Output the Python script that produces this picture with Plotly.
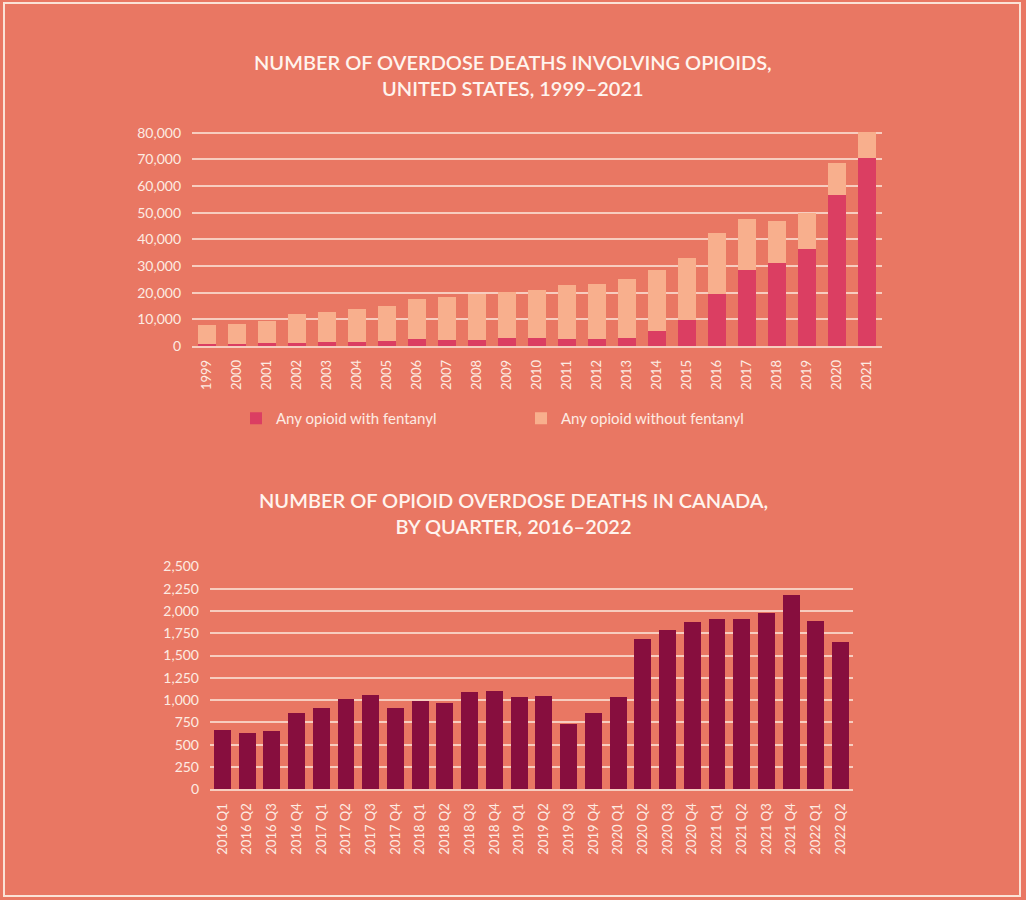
import plotly.graph_objects as go

# US data, 1999-2021
years = [str(y) for y in range(1999, 2022)]
with_fentanyl = [730, 782, 957, 1295, 1400, 1664, 1742, 2707, 2213, 2306, 2946, 3007,
                 2666, 2628, 3105, 5544, 9580, 19413, 28466, 31335, 36359, 56516, 70601]
without_fentanyl = [7318, 7625, 8539, 10625, 11540, 12092, 13176, 14838, 16303, 17276,
                    17476, 18082, 20118, 20538, 21947, 23103, 23511, 22836, 19134, 15467,
                    13501, 12114, 9810]

# Canada quarterly data
quarters = ["2016 Q1", "2016 Q2", "2016 Q3", "2016 Q4", "2017 Q1", "2017 Q2", "2017 Q3",
            "2017 Q4", "2018 Q1", "2018 Q2", "2018 Q3", "2018 Q4", "2019 Q1", "2019 Q2",
            "2019 Q3", "2019 Q4", "2020 Q1", "2020 Q2", "2020 Q3", "2020 Q4", "2021 Q1",
            "2021 Q2", "2021 Q3", "2021 Q4", "2022 Q1", "2022 Q2"]
canada_deaths = [662, 632, 651, 857, 913, 1014, 1052, 913, 992, 966, 1093, 1104, 1037, 1048,
                 737, 857, 1037, 1688, 1785, 1875, 1912, 1912, 1972, 2174, 1890, 1650]

W, H = 1026, 900
BG = "#E97763"
TXT = "#FDEBE2"
GRID = "#F7CDBF"
FONT = "Lato"

def px_x(v):
    return v / W

def px_y(v):
    return 1 - v / H

fig = go.Figure()

fig.add_trace(go.Bar(x=years, y=with_fentanyl, name="Any opioid with fentanyl", width=0.61,
                     marker=dict(color="#DB3E62", line=dict(width=0)),
                     xaxis="x", yaxis="y"))
fig.add_trace(go.Bar(x=years, y=without_fentanyl, name="Any opioid without fentanyl", width=0.61,
                     marker=dict(color="#F8AF8D", line=dict(width=0)),
                     xaxis="x", yaxis="y"))
fig.add_trace(go.Bar(x=quarters, y=canada_deaths, name="Canada", showlegend=False, width=0.685,
                     marker=dict(color="#870E3E", line=dict(width=0)),
                     xaxis="x2", yaxis="y2"))

ytickfont = dict(family=FONT, size=14, color=TXT)
xtickfont = dict(family=FONT, size=13, color=TXT)

fig.update_layout(
    width=W, height=H,
    barmode="stack",
    paper_bgcolor=BG,
    plot_bgcolor=BG,
    margin=dict(l=0, r=0, t=0, b=0, pad=0, autoexpand=False),
    font=dict(family=FONT, color=TXT),
    xaxis=dict(domain=[px_x(192), px_x(882)], anchor="y", tickangle=-90,
               tickfont=xtickfont, showgrid=False, showline=True, linecolor=GRID,
               linewidth=1.5, ticks="", ticklabelstandoff=7, automargin=False),
    yaxis=dict(domain=[px_y(346), px_y(131.5)], anchor="x", range=[0, 80500],
               tickvals=[0, 10000, 20000, 30000, 40000, 50000, 60000, 70000, 80000],
               tickformat=",", tickfont=ytickfont, gridcolor=GRID, gridwidth=1.5,
               zeroline=False, ticks="", ticklabelstandoff=10, automargin=False),
    xaxis2=dict(domain=[px_x(210), px_x(853)], anchor="y2", tickangle=-90,
                tickfont=xtickfont, showgrid=False, showline=True, linecolor=GRID,
                linewidth=1.5, ticks="", ticklabelstandoff=7, automargin=False),
    yaxis2=dict(domain=[px_y(789.3), px_y(566.3)], anchor="x2", range=[0, 2500],
                dtick=250, tickformat=",", tickfont=ytickfont, gridcolor=GRID,
                gridwidth=1.5, zeroline=False, ticks="", ticklabelstandoff=10,
                automargin=False),
    legend=dict(orientation="h", x=px_x(236), y=px_y(402), xanchor="left", yanchor="top",
                font=dict(family=FONT, size=15, color=TXT), entrywidth=240, itemwidth=30,
                entrywidthmode="pixels", bgcolor="rgba(0,0,0,0)", traceorder="normal"),
    shapes=[dict(type="rect", xref="paper", yref="paper",
                 x0=px_x(4), x1=px_x(1020), y0=px_y(896), y1=px_y(3),
                 line=dict(color="#FBE2D6", width=2))],
    annotations=[
        dict(text="NUMBER OF OVERDOSE DEATHS INVOLVING OPIOIDS,<br>UNITED STATES, 1999\u20132021",
             x=0.5, y=px_y(48), xref="paper", yref="paper", xanchor="center", yanchor="top",
             showarrow=False, font=dict(family=FONT, size=20, color="#FFF4EE", weight=600)),
        dict(text="NUMBER OF OPIOID OVERDOSE DEATHS IN CANADA,<br>BY QUARTER, 2016\u20132022",
             x=0.5, y=px_y(486), xref="paper", yref="paper", xanchor="center", yanchor="top",
             showarrow=False, font=dict(family=FONT, size=20, color="#FFF4EE", weight=600)),
    ],
)

fig.write_html("out.html", config={"displayModeBar": False},
               post_script="document.documentElement.style.margin='0';"
                           "document.body.style.margin='0';document.body.style.padding='0';"
                           "document.body.style.overflow='hidden';")
